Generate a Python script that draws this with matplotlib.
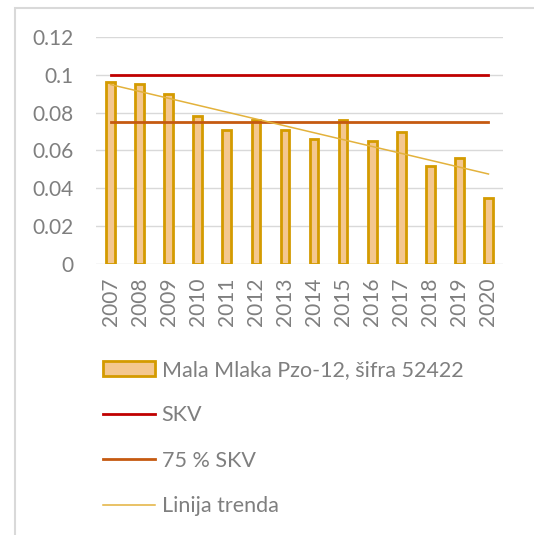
import matplotlib
matplotlib.use('Agg')
import numpy as np
import matplotlib.pyplot as plt
from matplotlib.patches import Rectangle

years = ['2007', '2008', '2009', '2010', '2011', '2012', '2013',
         '2014', '2015', '2016', '2017', '2018', '2019', '2020']
values = [0.096, 0.095, 0.090, 0.078, 0.071, 0.076, 0.071,
          0.066, 0.076, 0.065, 0.070, 0.052, 0.056, 0.035]
skv = 0.1
skv75 = 0.075
yticks = [0, 0.02, 0.04, 0.06, 0.08, 0.1, 0.12]
ytick_labels = ['0', '0.02', '0.04', '0.06', '0.08', '0.1', '0.12']
series_label = 'Mala Mlaka Pzo-12, šifra 52422'

plt.rcParams['font.family'] = ['Lato', 'DejaVu Sans']
gray = '#7f7f7f'

fig = plt.figure(figsize=(5.34, 5.35), dpi=100)
W, H = 534, 535
# outer chart border
fig.patches.append(Rectangle((15 / W, -0.1), 1.2, 1 - 8 / H + 0.1,
                             transform=fig.transFigure, fill=False,
                             edgecolor='#d9d9d9', lw=1.5))

ax = fig.add_axes([96 / W, 1 - 264 / H, (503 - 96) / W, (264 - 37) / H])
x = np.arange(len(years))
bars = ax.bar(x, values, width=0.3, color='#f4c78f', edgecolor='#d49b00',
              lw=2, label=series_label, zorder=3)
ax.plot(x, [skv] * len(x), color='#c00000', lw=2, label='SKV', zorder=4)
ax.plot(x, [skv75] * len(x), color='#c55a11', lw=2, label='75 % SKV', zorder=4)
k, b = np.polyfit(x, values, 1)
ax.plot(x, k * x + b, color='#e3b23c', lw=1.1, label='Linija trenda', zorder=5)

ax.set_xlim(-0.5, len(years) - 0.5)
ax.set_ylim(0, 0.12)
ax.set_yticks(yticks)
ax.set_yticklabels(ytick_labels)
ax.set_xticks(x)
ax.set_xticklabels(years, rotation=90)
ax.grid(axis='y', color='#d9d9d9', lw=1, zorder=0)
for s in ax.spines.values():
    s.set_visible(False)
ax.tick_params(length=0, labelsize=15, labelcolor=gray)
ax.tick_params(axis='y', pad=16)
ax.tick_params(axis='x', pad=10)

handles, labels = ax.get_legend_handles_labels()
order = [3, 0, 1, 2]
leg = fig.legend([handles[i] for i in order], [labels[i] for i in order],
                 loc='upper left', bbox_to_anchor=(103 / W, 1 - 360 / H),
                 frameon=False, fontsize=15.5, labelcolor=gray,
                 borderpad=0, borderaxespad=0,
                 handlelength=2.42, handleheight=0.7, labelspacing=1.18,
                 handletextpad=0.3)

fig.savefig('out.png', dpi=100)
